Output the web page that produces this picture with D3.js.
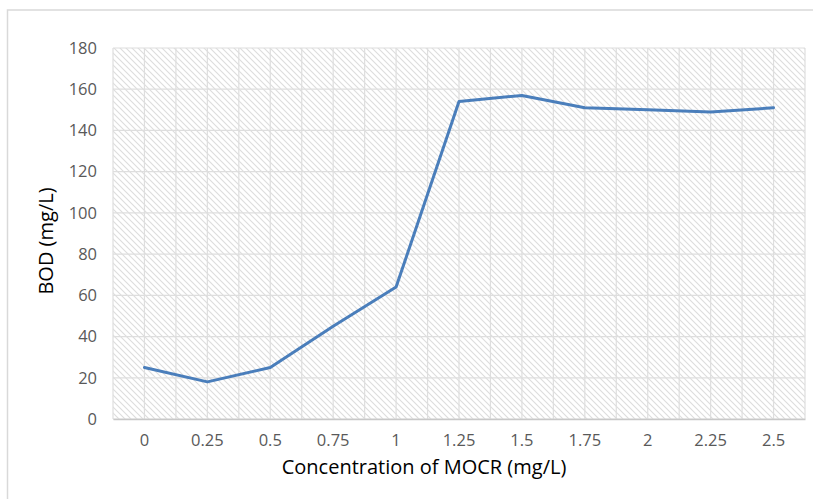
<!DOCTYPE html>
<html>
<head>
<meta charset="utf-8">
<script src="https://cdn.jsdelivr.net/npm/d3@7"></script>
<style>
  body { margin: 0; background: #ffffff; }
  text { font-family: "Open Sans", sans-serif; }
</style>
</head>
<body>
<div id="chartDiv"></div>
<script>
// data
var concLabels = ["0", "0.25", "0.5", "0.75", "1", "1.25", "1.5", "1.75", "2", "2.25", "2.5"];
var bodValues = [25, 18, 25, 45, 64, 154, 157, 151, 150, 149, 151];
var yTicks = [0, 20, 40, 60, 80, 100, 120, 140, 160, 180];

var width = 813, height = 499;
var plot = {left: 113, right: 805, top: 48, bottom: 419};

var svg = d3.select("#chartDiv")
    .append("svg")
        .attr("width", width)
        .attr("height", height);

// hatch pattern for the plot area
var defs = svg.append("defs");
var hatch = defs.append("pattern")
    .attr("id", "hatch")
    .attr("patternUnits", "userSpaceOnUse")
    .attr("width", 6)
    .attr("height", 6);
hatch.append("rect")
    .attr("width", 6).attr("height", 6)
    .attr("fill", "#ffffff");
hatch.append("path")
    .attr("d", "M-2,-2 L8,8 M-2,4 L2,8 M4,-2 L8,2")
    .attr("stroke", "#dddddd")
    .attr("stroke-width", 1.1);

// outer chart border
svg.append("rect")
    .attr("x", 7.5)
    .attr("y", 10)
    .attr("width", width + 20)
    .attr("height", height + 20)
    .attr("fill", "none")
    .attr("stroke", "#d9d9d9")
    .attr("stroke-width", 1.5);

var x = d3.scaleBand()
    .domain(concLabels)
    .range([plot.left, plot.right])
    .padding(0);

var y = d3.scaleLinear()
    .domain([0, 180])
    .range([plot.bottom, plot.top]);

// plot area fill
svg.append("rect")
    .attr("x", plot.left)
    .attr("y", plot.top)
    .attr("width", plot.right - plot.left)
    .attr("height", plot.bottom - plot.top)
    .attr("fill", "url(#hatch)");

// horizontal grid
svg.selectAll(".hlines").data(yTicks).enter()
    .append("line")
        .attr("class", "hlines")
        .attr("x1", plot.left)
        .attr("x2", plot.right)
        .attr("y1", function(d){ return y(d); })
        .attr("y2", function(d){ return y(d); })
        .attr("stroke", "#dedede")
        .attr("stroke-width", 1.2);

// vertical grid, at category edges and centres
var vPos = [];
concLabels.forEach(function(c){
    vPos.push(x(c));
    vPos.push(x(c) + x.bandwidth() / 2);
});
vPos.push(plot.right);
svg.selectAll(".vlines").data(vPos).enter()
    .append("line")
        .attr("class", "vlines")
        .attr("x1", function(d){ return d; })
        .attr("x2", function(d){ return d; })
        .attr("y1", plot.top)
        .attr("y2", plot.bottom)
        .attr("stroke", "#dedede")
        .attr("stroke-width", 1.2);

// X axis
var xAxis = svg.append("g")
    .attr("transform", "translate(0," + plot.bottom + ")")
    .call(d3.axisBottom(x).tickSize(0).tickPadding(15));
xAxis.select(".domain").attr("stroke", "#c8c8c8").attr("stroke-width", 1.5);
xAxis.selectAll("text")
    .attr("fill", "#595959")
    .style("font-size", "16.5px");

// Y axis
var yAxis = svg.append("g")
    .attr("transform", "translate(" + plot.left + ",0)")
    .call(d3.axisLeft(y).tickValues(yTicks).tickSize(0).tickPadding(16));
yAxis.select(".domain").remove();
yAxis.selectAll("text")
    .attr("fill", "#595959")
    .style("font-size", "16.5px");

// the line
var line = d3.line()
    .x(function(d, i){ return x(concLabels[i]) + x.bandwidth() / 2; })
    .y(function(d){ return y(d); });

svg.append("path")
    .datum(bodValues)
    .attr("d", line)
    .attr("fill", "none")
    .attr("stroke", "#4a7ebb")
    .attr("stroke-width", 3)
    .attr("stroke-linejoin", "round")
    .attr("stroke-linecap", "round");

// axis titles
svg.append("text")
    .attr("text-anchor", "middle")
    .attr("x", 424)
    .attr("y", 474)
    .attr("fill", "#000000")
    .style("font-size", "20px")
    .text("Concentration of MOCR (mg/L)");

svg.append("text")
    .attr("text-anchor", "middle")
    .attr("transform", "translate(53,241) rotate(-90)")
    .attr("fill", "#000000")
    .style("font-size", "20px")
    .text("BOD (mg/L)");
</script>
</body>
</html>
